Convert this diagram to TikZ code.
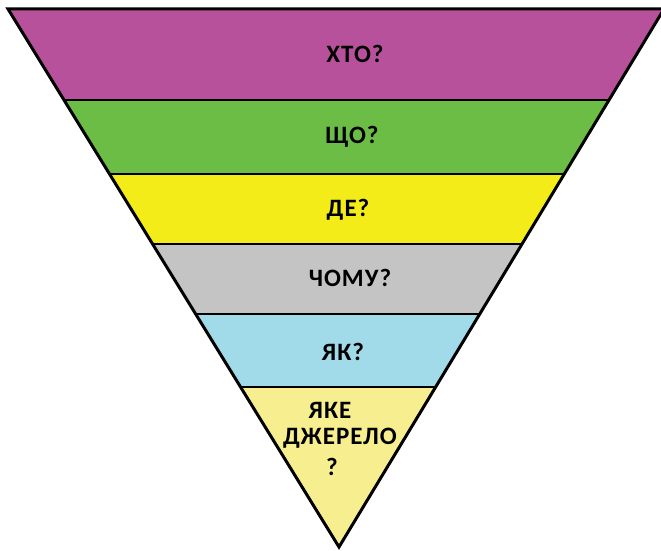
\documentclass[tikz,border=0pt]{standalone}
\usepackage{fontspec}
\setmainfont{Carlito}[LetterSpace=4]
\usetikzlibrary{calc}
\definecolor{cpurple}{HTML}{B8519B}
\definecolor{cgreen}{HTML}{6BBD45}
\definecolor{cyellow}{HTML}{F3EC19}
\definecolor{cgray}{HTML}{C4C4C4}
\definecolor{cblue}{HTML}{A1DAE8}
\definecolor{clyellow}{HTML}{F7EF8F}
\begin{document}
\begin{tikzpicture}[x=1pt,y=-1pt,
  lbl/.style={font=\bfseries\fontsize{25}{27}\selectfont, inner sep=0pt, text=black},
  edge/.style={line width=3pt, line join=miter},
  sep/.style={line width=2pt}]
\useasboundingbox (0,0) rectangle (661,551);
\begin{scope}
\clip (0,0) rectangle (661,551);
\coordinate (TL) at (8,9);
\coordinate (TR) at (664,9);
\coordinate (A) at (339,547);
\begin{scope}
\clip (TL) -- (TR) -- (A) -- cycle;
\fill[cpurple] (0,0) rectangle (670,100);
\fill[cgreen] (0,100) rectangle (670,174);
\fill[cyellow] (0,174) rectangle (670,244);
\fill[cgray] (0,244) rectangle (670,314);
\fill[cblue] (0,314) rectangle (670,387);
\fill[clyellow] (0,387) rectangle (670,560);
\end{scope}
\foreach \yy in {100,174,244,314,387} {
  \draw[sep] ($(TL)!{(\yy-9)/538}!(A)$) -- ($(TR)!{(\yy-9)/538}!(A)$);
}
\draw[edge] (TL) -- (TR) -- (A) -- cycle;
\end{scope}
\node[lbl] (who) at (355,54) {ХТО?};
\node[lbl] (what) at (352,137) {ЩО?};
\node[lbl] (where) at (348,210) {ДЕ?};
\node[lbl] (why) at (350,278) {ЧОМУ?};
\node[lbl] (how) at (343,352) {ЯК?};
\node[lbl] (src1) at (330,410) {ЯКЕ};
\node[lbl] (src2) at (340,438) {ДЖЕРЕЛО};
\node[lbl] (src3) at (332,467) {?};
\end{tikzpicture}
\end{document}
